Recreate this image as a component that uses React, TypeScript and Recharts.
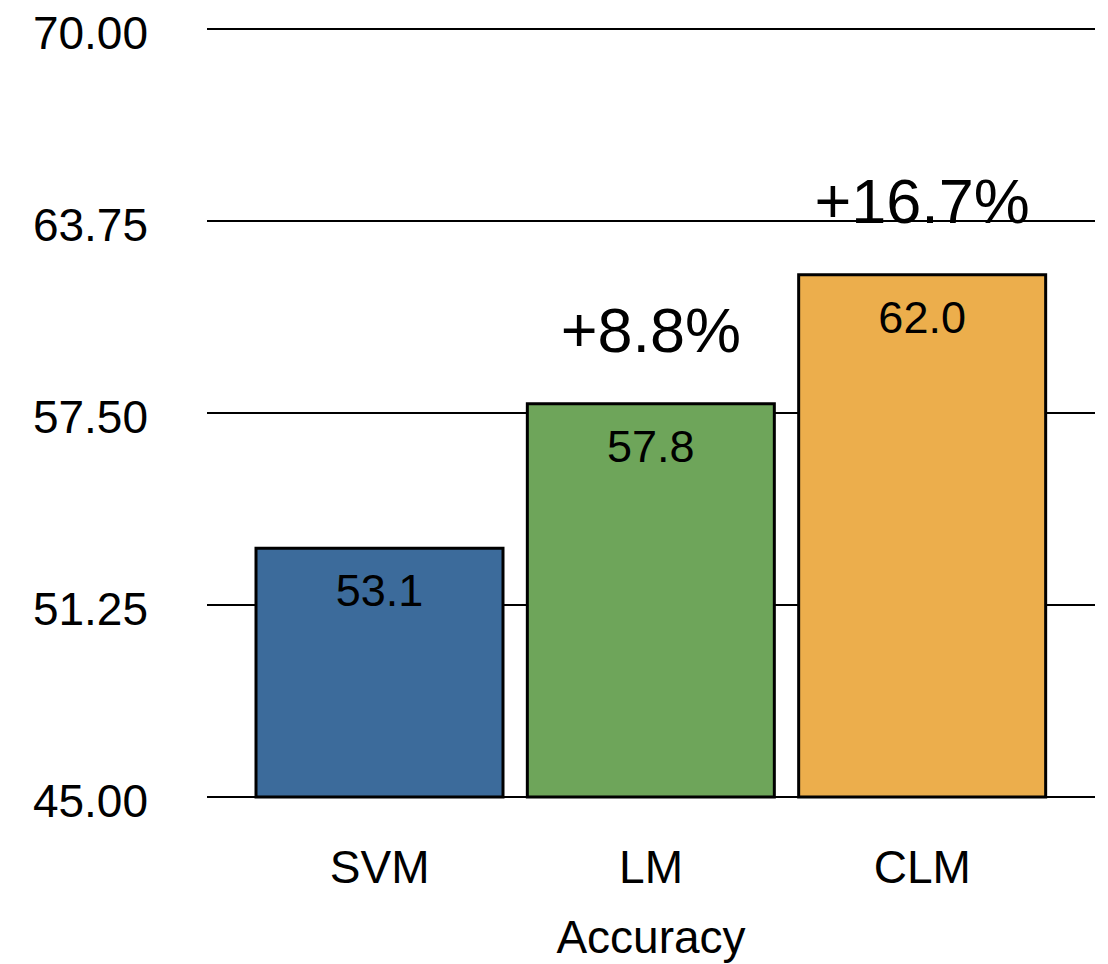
import React from "react";
import { BarChart, Bar, XAxis, YAxis, CartesianGrid, Cell, LabelList, Label } from "recharts";

// Model names along the x axis
const models = ["SVM", "LM", "CLM"];
// Accuracy of each model
const accuracy = [53.1, 57.8, 62.0];
// Relative gain over the SVM baseline, printed above each bar
const gains = ["", "+8.8%", "+16.7%"];
// Bar fill colours
const barColors = ["#3c6b9b", "#6ea55a", "#ecae4c"];
// Y axis ticks
const yTicks = [45, 51.25, 57.5, 63.75, 70];

const data = models.map((model, i) => ({
  model,
  accuracy: accuracy[i],
  gain: gains[i],
}));

const FONT = "'Liberation Sans', Arial, Helvetica, sans-serif";

const YTick = (props: any) => {
  const { x, y, payload } = props;
  return (
    <text x={x - 59} y={y + 20} textAnchor="end" fontFamily={FONT} fontSize={46} fill="#000">
      {Number(payload.value).toFixed(2)}
    </text>
  );
};

const XTick = (props: any) => {
  const { x, y, payload } = props;
  return (
    <text x={x} y={y + 86} textAnchor="middle" fontFamily={FONT} fontSize={46} fill="#000">
      {payload.value}
    </text>
  );
};

const ValueLabel = (props: any) => {
  const { x, y, width, value } = props;
  return (
    <text x={x + width / 2} y={y + 58} textAnchor="middle" fontFamily={FONT} fontSize={45} fill="#000">
      {Number(value).toFixed(1)}
    </text>
  );
};

const GainLabel = (props: any) => {
  const { x, y, width, value } = props;
  if (!value) return null;
  return (
    <text x={x + width / 2} y={y - 52} textAnchor="middle" fontFamily={FONT} fontSize={63} fill="#000">
      {value}
    </text>
  );
};

export default function App() {
  return (
    <div style={{ position: "absolute", left: 0, top: 0, background: "#fff" }}>
      <BarChart
        width={1108}
        height={964}
        data={data}
        margin={{ top: 29, right: 13, bottom: 0, left: 0 }}
      >
        <CartesianGrid vertical={false} stroke="#000" strokeWidth={2} />
        <XAxis
          dataKey="model"
          height={167}
          padding={{ left: 37, right: 37 }}
          tickLine={false}
          tickSize={0}
          tickMargin={0}
          axisLine={{ stroke: "#000", strokeWidth: 2 }}
          tick={<XTick />}
        >
          <Label
            value="Accuracy"
            position="insideBottom"
            offset={11}
            fill="#000"
            fontSize={46}
            fontFamily={FONT}
          />
        </XAxis>
        <YAxis
          width={207}
          domain={[45, 70]}
          ticks={yTicks}
          interval={0}
          axisLine={false}
          tickLine={false}
          tickSize={0}
          tickMargin={0}
          tick={<YTick />}
        />
        <Bar dataKey="accuracy" barSize={247} stroke="#000" strokeWidth={3} isAnimationActive={false}>
          {data.map((d, i) => (
            <Cell key={d.model} fill={barColors[i]} />
          ))}
          <LabelList dataKey="accuracy" content={<ValueLabel />} />
          <LabelList dataKey="gain" content={<GainLabel />} />
        </Bar>
      </BarChart>
    </div>
  );
}
